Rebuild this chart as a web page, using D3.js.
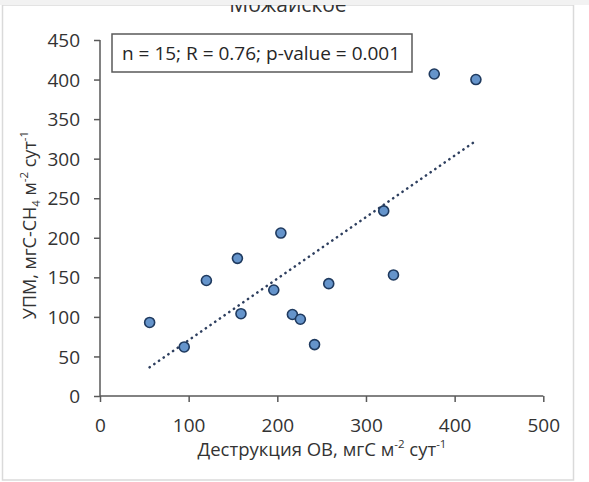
<!DOCTYPE html>
<html>
<head>
<meta charset="utf-8">
<script src="https://cdn.jsdelivr.net/npm/d3@7"></script>
<style>
  body { margin: 0; background: #fff; }
  svg text { font-family: "Open Sans", "Noto Sans", sans-serif; fill: #333; }
</style>
</head>
<body>
<div id="chart"></div>
<script>
// Деструкция ОВ vs УПМ, Можайское
const destruction = [56, 95, 120, 155, 159, 196, 204, 217, 226, 242, 258, 320, 331, 377, 424];
const upm = [93, 62, 146, 174, 104, 134, 206, 103, 97, 65, 142, 234, 153, 407, 400];
const xTicks = [0, 100, 200, 300, 400, 500];
const yTicks = [0, 50, 100, 150, 200, 250, 300, 350, 400, 450];
const title = "Можайское";
const statsLabel = "n = 15; R = 0.76; p-value = 0.001";

const width = 589, height = 482;
const points = destruction.map((d, i) => ({ x: d, y: upm[i] }));

const svg = d3.select("#chart")
  .append("svg")
  .attr("width", width)
  .attr("height", height);

// outer frame
svg.append("rect")
  .attr("x", 2.5).attr("y", 5)
  .attr("width", 571).attr("height", 475)
  .attr("fill", "#fff")
  .attr("stroke", "#dadada")
  .attr("stroke-width", 1.5);

const x = d3.scaleLinear().domain([0, 500]).range([100, 543.3]);
const y = d3.scaleLinear().domain([0, 450]).range([396, 40]);

// title, mostly cut off at the top
svg.append("text")
  .attr("x", 288).attr("y", 12)
  .attr("text-anchor", "middle")
  .style("font-size", "21px")
  .text(title);
// the screenshot's top band hides the upper part of the title
svg.append("rect")
  .attr("x", 0).attr("y", 0)
  .attr("width", width).attr("height", 5)
  .attr("fill", "#f2f2f2");

// axes
const xAxis = svg.append("g")
  .attr("transform", `translate(0,${y(0)})`)
  .call(d3.axisBottom(x).tickValues(xTicks).tickSize(6).tickFormat(d3.format("d")));
xAxis.selectAll("text")
  .attr("y", 36).attr("dy", 0)
  .style("font-size", "19px");

const yAxis = svg.append("g")
  .attr("transform", `translate(${x(0)},0)`)
  .call(d3.axisLeft(y).tickValues(yTicks).tickSize(6).tickFormat(d3.format("d")));
yAxis.selectAll("text")
  .attr("x", -20).attr("dy", "0.35em")
  .style("font-size", "19px");

svg.selectAll(".tick line")
  .attr("stroke", "#595959")
  .attr("stroke-width", 1.5);
// plain axis lines without end ticks
svg.selectAll(".domain").remove();
svg.append("line")
  .attr("x1", x(0)).attr("x2", x(0)).attr("y1", y(450)).attr("y2", y(0))
  .attr("stroke", "#595959").attr("stroke-width", 1.5);
svg.append("line")
  .attr("x1", x(0)).attr("x2", x(500)).attr("y1", y(0)).attr("y2", y(0))
  .attr("stroke", "#595959").attr("stroke-width", 1.5);

// axis titles
const xt = svg.append("text")
  .attr("x", 322).attr("y", 456)
  .attr("text-anchor", "middle")
  .style("font-size", "18.5px");
xt.append("tspan").text("Деструкция ОВ, мгС м");
xt.append("tspan").attr("dy", -8).style("font-size", "11.5px").text("-2");
xt.append("tspan").attr("dy", 8).text(" сут");
xt.append("tspan").attr("dy", -8).style("font-size", "11.5px").text("-1");

const yt = svg.append("text")
  .attr("transform", "translate(36,225) rotate(-90)")
  .attr("text-anchor", "middle")
  .style("font-size", "18px");
yt.append("tspan").text("УПМ, мгС-CH");
yt.append("tspan").attr("dy", 4).style("font-size", "11.5px").text("4");
yt.append("tspan").attr("dy", -4).text(" м");
yt.append("tspan").attr("dy", -8).style("font-size", "11.5px").text("-2");
yt.append("tspan").attr("dy", 8).text(" сут");
yt.append("tspan").attr("dy", -8).style("font-size", "11.5px").text("-1");

// linear trend (least squares)
const mx = d3.mean(destruction), my = d3.mean(upm);
const slope = d3.sum(points, p => (p.x - mx) * (p.y - my)) / d3.sum(points, p => (p.x - mx) ** 2);
const intercept = my - slope * mx;
const xr = d3.extent(destruction);
svg.append("path")
  .datum(xr.map(v => [v, intercept + slope * v]))
  .attr("d", d3.line().x(d => x(d[0])).y(d => y(d[1])))
  .attr("fill", "none")
  .attr("stroke", "#2e3f5f")
  .attr("stroke-width", 2.6)
  .attr("stroke-linecap", "round")
  .attr("stroke-dasharray", "0.1 5.6");

// points
svg.selectAll("circle.pt")
  .data(points)
  .join("circle")
  .attr("class", "pt")
  .attr("cx", d => x(d.x))
  .attr("cy", d => y(d.y))
  .attr("r", 5)
  .attr("fill", "#6594cb")
  .attr("stroke", "#1f3a5f")
  .attr("stroke-width", 1.6);

// stats box
svg.append("rect")
  .attr("x", 112).attr("y", 34)
  .attr("width", 300).attr("height", 38)
  .attr("fill", "#fff")
  .attr("stroke", "#595959")
  .attr("stroke-width", 1.5);
svg.append("text")
  .attr("x", 122).attr("y", 60)
  .style("font-size", "19px")
  .style("fill", "#262626")
  .text(statsLabel);
</script>
</body>
</html>
